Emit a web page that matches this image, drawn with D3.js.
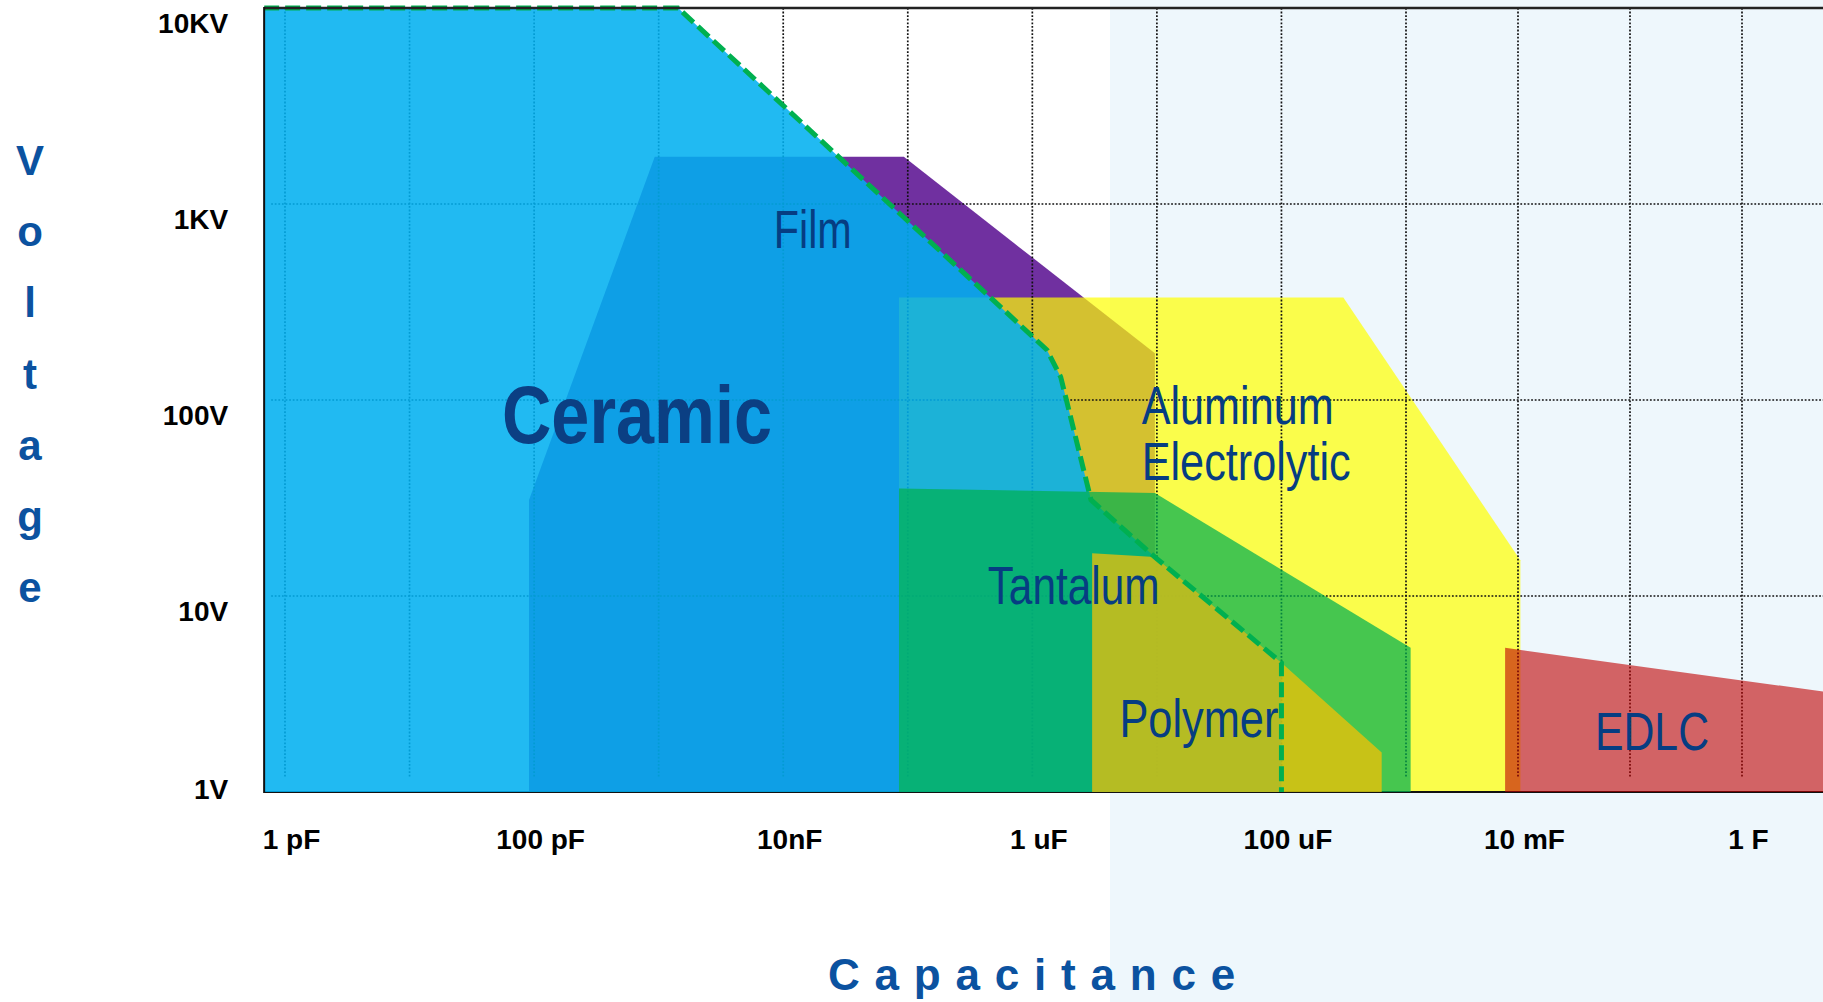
<!DOCTYPE html>
<html>
<head>
<meta charset="utf-8">
<script src="https://cdn.jsdelivr.net/npm/d3@7"></script>
<style>
  html, body { margin: 0; padding: 0; background: #ffffff; overflow: hidden; }
  svg { display: block; }
</style>
</head>
<body>
<svg id="chart" width="1823" height="1002"></svg>
<script>
// ---- Data: capacitance (F) / voltage (V) outlines per capacitor technology ----
const capMin = 0.68e-12;   // left edge of the capacitance axis
const capMax = 5.6;        // right edge of the capacitance axis

const ceramicC  = [capMin, 1.43e-9, 1.31e-6, 1.69e-6, 2.96e-6, 9.64e-6, 1.0e-4, 1.0e-4, capMin];
const ceramicV  = [1e4,    1e4,     180,     131,     30.9,    15.8,    4.56,   1,      1];

const filmC     = [9.1e-11, 9.1e-11, 9.3e-10, 9.3e-8, 9.64e-6, 9.64e-6];
const filmV     = [1,       30.9,    1740,    1740,   173,     1];

const aluminumC = [8.5e-8, 8.5e-8, 3.14e-4, 1.05e-2, 1.05e-2];
const aluminumV = [1,      333,    333,     15.2,    1];

const tantalumC = [8.5e-8, 8.5e-8, 9.64e-6, 1.1e-3, 1.1e-3];
const tantalumV = [1,      35.4,   33.5,    5.44,   1];

const polymerC  = [3.02e-6, 3.02e-6, 9.64e-6, 1.0e-4, 6.38e-4, 6.38e-4];
const polymerV  = [1,       16.5,    15.8,    4.56,   1.59,    1];

const edlcC     = [7.67e-3, 7.67e-3, capMax, capMax];
const edlcV     = [1,       5.44,    3.24,   1];

// Axis ticks and grid
const capTicks   = [1e-12, 1e-10, 1e-8, 1e-6, 1e-4, 1e-2, 1];
const capLabels  = ["1 pF", "100 pF", "10nF", "1 uF", "100 uF", "10 mF", "1 F"];
const capGrid    = [1e-12, 1e-11, 1e-10, 1e-9, 1e-8, 1e-7, 1e-6, 1e-5, 1e-4, 1e-3, 1e-2, 1e-1, 1];
const voltTicks  = [1, 10, 100, 1000, 10000];
const voltLabels = ["1V", "10V", "100V", "1KV", "10KV"];
const voltGrid   = [10, 100, 1000];

// Region labels, anchored in data space
const regionLabels = [
  { lines: ["Ceramic"], c: 5.52e-11, v: 60.4, bold: true, size: 82, widths: [270] },
  { lines: ["Film"], c: 8.4e-9, v: 597, size: 53, widths: [78] },
  { lines: ["Aluminum", "Electrolytic"], c: 7.55e-6, v: 75.4, size: 53, widths: [192, 209] },
  { lines: ["Tantalum"], c: 4.38e-7, v: 9.1, size: 53, widths: [172] },
  { lines: ["Polymer"], c: 5.0e-6, v: 1.91, size: 53, widths: [159] },
  { lines: ["EDLC"], c: 0.0487, v: 1.64, size: 53, widths: [114] }
];

// ---- Scales ----
// The capacitance axis is drawn with a slightly tighter decade spacing above 1 mF.
const x = d3.scaleLog().domain([1e-12, 1e-3, 1]).range([285, 1406, 1742]);
const y = d3.scaleLog().domain([1, 1e4]).range([792, 8]);

const svg = d3.select("#chart");
const W = 1823, H = 1002;
const x0 = x(capMin), yTop = y(1e4), yBot = y(1);

// Light background tint on the right part of the slide
svg.append("rect").attr("x", 1110).attr("y", 0).attr("width", W - 1110).attr("height", H)
  .attr("fill", "#eef7fc");

svg.append("defs").append("clipPath").attr("id", "plotClip")
  .append("rect").attr("x", x0).attr("y", 0).attr("width", W - x0).attr("height", yBot + 2);

const plot = svg.append("g").attr("clip-path", "url(#plotClip)");

const pts = (cs, vs) => cs.map((c, i) => [x(c), y(vs[i])]);
const area = d3.line();

function region(cs, vs, fill, opacity) {
  plot.append("path").attr("d", area(pts(cs, vs)) + "Z")
    .attr("fill", fill).attr("fill-opacity", opacity);
}

// Bottom layers
region(filmC, filmV, "#7030a0", 1);
region(aluminumC, aluminumV, "#ffff00", 0.7);

// Grid
const grid = plot.append("g").attr("stroke", "#111").attr("stroke-width", 1.7)
  .attr("stroke-dasharray", "1.8,1.8");
grid.selectAll("line.v").data(capGrid).join("line")
  .attr("x1", d => x(d)).attr("x2", d => x(d))
  .attr("y1", yTop).attr("y2", yBot - 14);
grid.selectAll("line.h").data(voltGrid).join("line")
  .attr("x1", x0 + 7).attr("x2", W)
  .attr("y1", d => y(d)).attr("y2", d => y(d));

// Baseline of the chart
plot.append("line").attr("x1", x0).attr("x2", W).attr("y1", yBot).attr("y2", yBot)
  .attr("stroke", "#111").attr("stroke-width", 2);

// Upper layers
region(ceramicC, ceramicV, "#00b0f0", 0.87);
region(tantalumC, tantalumV, "#00b050", 0.72);
region(polymerC, polymerV, "#ffc000", 0.7);
region(edlcC, edlcV, "#c00000", 0.6);

// Ceramic limit, dashed
plot.append("path")
  .attr("d", area(pts(ceramicC.slice(0, -1), ceramicV.slice(0, -1))))
  .attr("fill", "none").attr("stroke", "#00b050").attr("stroke-width", 5)
  .attr("stroke-dasharray", "15,6");

// Frame
svg.append("line").attr("x1", x0).attr("x2", W).attr("y1", yTop).attr("y2", yTop)
  .attr("stroke", "#222").attr("stroke-width", 2.5);
svg.append("line").attr("x1", x0).attr("x2", x0).attr("y1", yTop - 1).attr("y2", yBot + 1)
  .attr("stroke", "#111").attr("stroke-width", 2);

// ---- Axes ----
const tickFont = "'Liberation Sans', Arial, sans-serif";

const xAxis = svg.append("g").attr("transform", `translate(0,${yBot})`)
  .call(d3.axisBottom(x).tickValues(capTicks).tickFormat((d, i) => capLabels[i]).tickSize(0));
xAxis.select(".domain").remove();
xAxis.selectAll("text")
  .attr("x", 6).attr("y", 57).attr("dy", 0)
  .attr("font-family", tickFont).attr("font-size", 28).attr("font-weight", "bold")
  .attr("fill", "#000");

const yAxis = svg.append("g").attr("transform", `translate(${x0},0)`)
  .call(d3.axisLeft(y).tickValues(voltTicks).tickFormat((d, i) => voltLabels[i]).tickSize(0));
yAxis.select(".domain").remove();
yAxis.selectAll("text")
  .attr("x", -36).attr("dy", 0)
  .attr("y", d => Math.min(24, yBot + 6 - y(d)))
  .attr("text-anchor", "end")
  .attr("font-family", tickFont).attr("font-size", 28).attr("font-weight", "bold")
  .attr("fill", "#000");

// Axis titles
const titleColor = "#0b52a0";
const vTitle = "Voltage".split("");
svg.append("g").selectAll("text").data(vTitle).join("text")
  .attr("x", 30).attr("y", (d, i) => 175 + i * 71.2)
  .attr("text-anchor", "middle")
  .attr("font-family", tickFont).attr("font-size", 42).attr("font-weight", "bold")
  .attr("fill", titleColor).text(d => d);

svg.append("text").attr("x", 828).attr("y", 990)
  .attr("font-family", tickFont).attr("font-size", 44).attr("font-weight", "bold")
  .attr("letter-spacing", 14.8).attr("fill", titleColor).text("Capacitance");

// ---- Region labels ----
const labelG = svg.append("g");
regionLabels.forEach(l => {
  l.lines.forEach((t, i) => {
    labelG.append("text")
      .attr("x", x(l.c)).attr("y", y(l.v) + i * 56)
      .attr("font-family", "'Liberation Sans Narrow', 'Liberation Sans', Arial, sans-serif")
      .attr("font-size", l.size).attr("font-weight", l.bold ? "bold" : "normal")
      .attr("fill", l.bold ? "#0b3f83" : "#063d82")
      .attr("textLength", l.widths[i]).attr("lengthAdjust", "spacingAndGlyphs")
      .text(t);
  });
});
</script>
</body>
</html>
